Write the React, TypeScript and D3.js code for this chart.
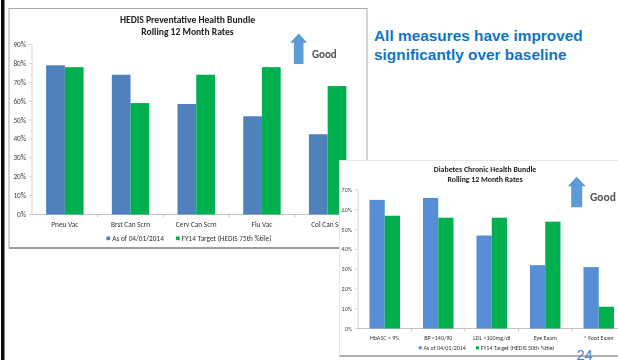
import React from "react";
import * as d3 from "d3";

const preventiveCategories = ["Pneu Vac", "Brst Can Scrn", "Cerv Can Scrn", "Flu Vac", "Col Can Scr"];
const preventiveCurrent = [79, 74, 58.5, 52, 42.5];
const preventiveTarget = [78, 59, 74, 78, 68];
const preventiveTicks = [0, 10, 20, 30, 40, 50, 60, 70, 80, 90];

const diabetesCategories = ["HbA1C < 9%", "BP <140/90", "LDL <100mg/dl", "Eye Exam", "* Foot Exam"];
const diabetesCurrent = [65, 66, 47, 32, 31];
const diabetesTarget = [57, 56, 56, 54, 11];
const diabetesTicks = [0, 10, 20, 30, 40, 50, 60, 70];

const FONT = "Carlito, Lato, 'Open Sans', sans-serif";
const HEAD = "'Liberation Sans', Arial, sans-serif";

type PanelProps = {
  frame: { x: number; y: number; w: number; h: number };
  plot: { x0: number; x1: number; y0: number; y1: number };
  maxValue: number;
  ticks: number[];
  categories: string[];
  current: number[];
  target: number[];
  colors: [string, string];
  titles: [string, string];
  titleX: number;
  titleYs: [number, number];
  legendY: number;
  legend: [string, string];
  legendXs: [number, number];
  fontSize: number;
  titleSize: number;
  arrow: { x: number; top: number; bottom: number; halfHead: number; headHeight: number; halfShaft: number };
  good: { x: number; y: number; size: number };
  border: string;
  bottomEdge: string;
};

function Panel(p: PanelProps) {
  const x0 = d3.scaleBand<string>().domain(p.categories).range([p.plot.x0, p.plot.x1]).paddingInner(0.43).paddingOuter(0.215);
  const x1 = d3.scaleBand<string>().domain(["current", "target"]).range([0, x0.bandwidth()]);
  const y = d3.scaleLinear().domain([0, p.maxValue]).range([p.plot.y0, p.plot.y1]);
  const step = x0.step();
  const a = p.arrow;
  const arrowPath = d3.path();
  arrowPath.moveTo(a.x, a.top);
  arrowPath.lineTo(a.x + a.halfHead, a.top + a.headHeight);
  arrowPath.lineTo(a.x + a.halfShaft, a.top + a.headHeight);
  arrowPath.lineTo(a.x + a.halfShaft, a.bottom);
  arrowPath.lineTo(a.x - a.halfShaft, a.bottom);
  arrowPath.lineTo(a.x - a.halfShaft, a.top + a.headHeight);
  arrowPath.lineTo(a.x - a.halfHead, a.top + a.headHeight);
  arrowPath.closePath();

  return (
    <g>
      <rect x={p.frame.x} y={p.frame.y} width={p.frame.w} height={p.frame.h} fill="#fff" stroke={p.border} strokeWidth={1} />
      <line x1={p.frame.x} x2={p.frame.x + p.frame.w} y1={p.frame.y + p.frame.h} y2={p.frame.y + p.frame.h} stroke={p.bottomEdge} strokeWidth={1.4} />
      <g fontFamily={FONT} fontWeight={700} fill="#222" fontSize={p.titleSize} textAnchor="middle">
        <text x={p.titleX} y={p.titleYs[0]}>{p.titles[0]}</text>
        <text x={p.titleX} y={p.titleYs[1]}>{p.titles[1]}</text>
      </g>
      <line x1={p.plot.x0} x2={p.plot.x0} y1={p.plot.y0} y2={p.plot.y1} stroke="#d4d4d4" />
      <line x1={p.plot.x0} x2={p.plot.x1} y1={p.plot.y0} y2={p.plot.y0} stroke="#c4c4c4" />
      {p.ticks.map((t) => (
        <g key={t}>
          <line x1={p.plot.x0 - 3} x2={p.plot.x0} y1={y(t)} y2={y(t)} stroke="#d4d4d4" />
          <text x={p.plot.x0 - 6} y={y(t) + p.fontSize * 0.35} textAnchor="end" fontFamily={FONT} fontSize={p.fontSize} fill="#444">{t}%</text>
        </g>
      ))}
      {p.categories.map((c, i) => (
        <g key={c}>
          <line x1={p.plot.x0 + step * (i + 1)} x2={p.plot.x0 + step * (i + 1)} y1={p.plot.y0} y2={p.plot.y0 + 3} stroke="#c4c4c4" />
          <rect x={x0(c)! + x1("current")!} y={y(p.current[i])} width={x1.bandwidth()} height={p.plot.y0 - y(p.current[i])} fill={p.colors[0]} />
          <rect x={x0(c)! + x1("target")!} y={y(p.target[i])} width={x1.bandwidth()} height={p.plot.y0 - y(p.target[i])} fill={p.colors[1]} />
          <text x={x0(c)! + x0.bandwidth() / 2} y={p.plot.y0 + p.fontSize + 5.5} textAnchor="middle" fontFamily={FONT} fontSize={p.fontSize} fill="#333">{c}</text>
        </g>
      ))}
      {p.legend.map((label, i) => (
        <g key={label}>
          <rect x={p.legendXs[i]} y={p.legendY - p.fontSize * 0.62} width={p.fontSize * 0.5} height={p.fontSize * 0.5} fill={p.colors[i]} />
          <text x={p.legendXs[i] + p.fontSize * 0.78} y={p.legendY} fontFamily={FONT} fontSize={p.fontSize} fill="#333">{label}</text>
        </g>
      ))}
      <path d={arrowPath.toString()} fill="#5b9bd5" />
      <text x={p.good.x} y={p.good.y} fontFamily={FONT} fontWeight={700} fontSize={p.good.size} fill="#555">Good</text>
    </g>
  );
}

export default function App() {
  return (
    <svg width={618} height={360} style={{ position: "absolute", left: 0, top: 0, background: "#fff" }}>
      <defs>
        <filter id="soft" x="-5%" y="-5%" width="110%" height="110%">
          <feGaussianBlur stdDeviation="0.65" />
        </filter>
      </defs>
      {/* slide's left rule */}
      <rect x={1} y={0} width={3} height={360} fill="#0a0a0a" />
      <rect x={4} y={0} width={1} height={360} fill="#8a8a8a" />
      <g filter="url(#soft)">
        <Panel
          frame={{ x: 9, y: 8.5, w: 358, h: 239.5 }}
          plot={{ x0: 32, x1: 360.5, y0: 214.5, y1: 44.5 }}
          maxValue={90}
          ticks={preventiveTicks}
          categories={preventiveCategories}
          current={preventiveCurrent}
          target={preventiveTarget}
          colors={["#4f81bd", "#00b050"]}
          titles={["HEDIS Preventative Health Bundle", "Rolling 12 Month Rates"]}
          titleX={187.5}
          titleYs={[22.5, 34.5]}
          legendY={241}
          legend={["As of 04/01/2014", "FY14 Target (HEDIS 75th %tile)"]}
          legendXs={[106.5, 176]}
          fontSize={7.3}
          titleSize={9.6}
          arrow={{ x: 298.7, top: 33.5, bottom: 64, halfHead: 8.5, headHeight: 9.3, halfShaft: 4.8 }}
          good={{ x: 312, y: 58, size: 11 }}
          border="#a8a8a8"
          bottomEdge="#8c8c8c"
        />
        <Panel
          frame={{ x: 339.5, y: 160.5, w: 285, h: 195.5 }}
          plot={{ x0: 358, x1: 625.5, y0: 328.5, y1: 190 }}
          maxValue={70}
          ticks={diabetesTicks}
          categories={diabetesCategories}
          current={diabetesCurrent}
          target={diabetesTarget}
          colors={["#558ed5", "#00b050"]}
          titles={["Diabetes Chronic Health Bundle", "Rolling 12 Month Rates"]}
          titleX={485}
          titleYs={[172, 182]}
          legendY={350}
          legend={["As of 04/01/2014", "FY14 Target (HEDIS 50th %tile)"]}
          legendXs={[418.7, 476]}
          fontSize={6}
          titleSize={7.8}
          arrow={{ x: 576.7, top: 176.7, bottom: 207.3, halfHead: 9, headHeight: 9.5, halfShaft: 5.5 }}
          good={{ x: 590, y: 201, size: 11.5 }}
          border="#e6e6e6"
          bottomEdge="#9c9c9c"
        />
      </g>
      <g fontFamily={HEAD} fontWeight={700} fontSize={15.4} fill="#0f75c4">
        <text x={374} y={41}>All measures have improved</text>
        <text x={374} y={60}>significantly over baseline</text>
      </g>
      <text x={576.5} y={359.5} fontFamily={HEAD} fontSize={14.5} fill="#4a7ebb">24</text>
    </svg>
  );
}
